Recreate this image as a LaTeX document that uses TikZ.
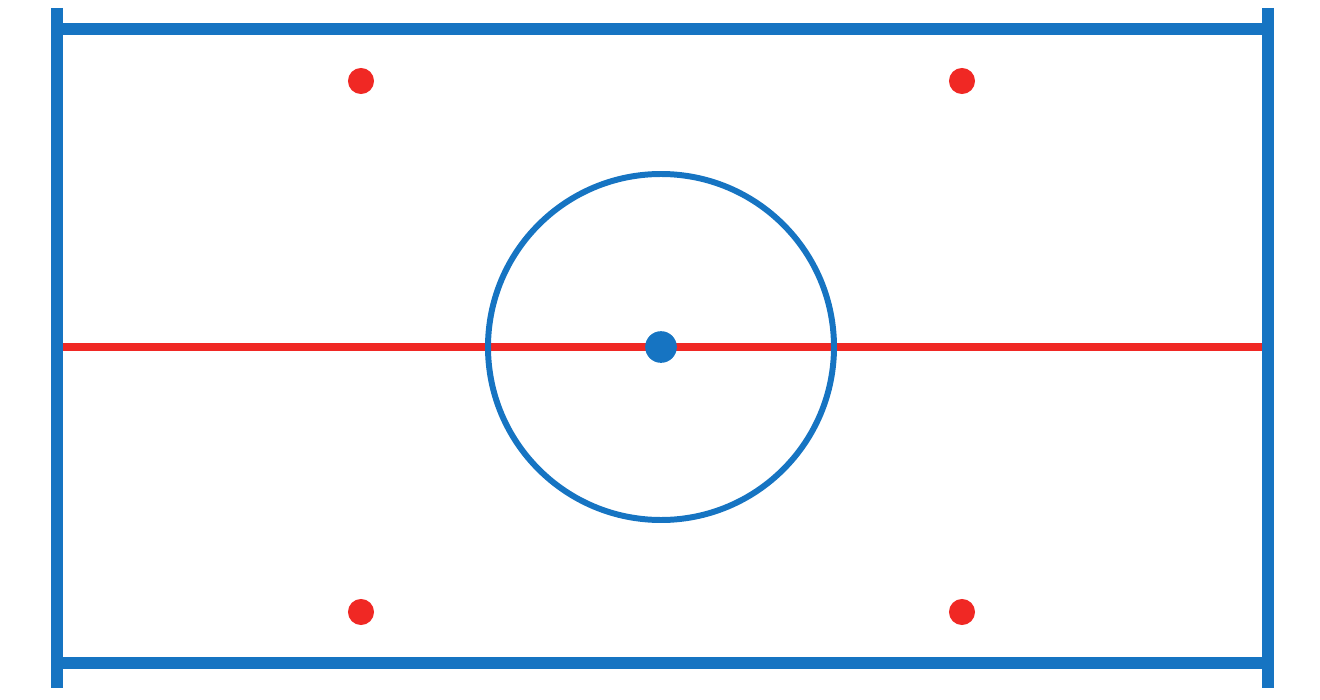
\documentclass[tikz,border=0pt]{standalone}
\usetikzlibrary{positioning, calc}
\definecolor{rinkblue}{RGB}{22,116,194}
\definecolor{rinkred}{RGB}{240,40,36}

\begin{document}
\begin{tikzpicture}[x=0.01cm, y=-0.01cm,
        board/.style={rinkblue, line width=3.2pt},
        spot/.style={circle, fill=rinkred, inner sep=0pt, minimum size=7.4pt},
        puck/.style={circle, fill=rinkblue, inner sep=0pt, minimum size=9pt}]
        \useasboundingbox (0,0) rectangle (1320,700);
        % corners of the frame
        \coordinate (TL) at (57,8);
        \coordinate (BL) at (57,688);
        \coordinate (TR) at (1268,8);
        \coordinate (BR) at (1268,688);
        \coordinate (ML) at (60,347);
        \coordinate (MR) at (1263,347);
        \coordinate (O) at (661,347);
        
        \draw[rinkred, line width=2pt] (ML) -- (MR);
        \draw[rinkblue, line width=1.7pt] (O) circle (173);
        
        \node[puck] (C) at (O) {};
        \node[spot] (S1) at (361,81) {};
        \node[spot] (S2) at (962,81) {};
        \node[spot] (S3) at (361,612) {};
        \node[spot] (S4) at (962,612) {};
        
        \draw[board] (TL) -- (BL);
        \draw[board] (TR) -- (BR);
        \draw[board] (TL |- 0,29) -- (TR |- 0,29);
        \draw[board] (BL |- 0,663) -- (BR |- 0,663);
    \end{tikzpicture}
\end{document}
